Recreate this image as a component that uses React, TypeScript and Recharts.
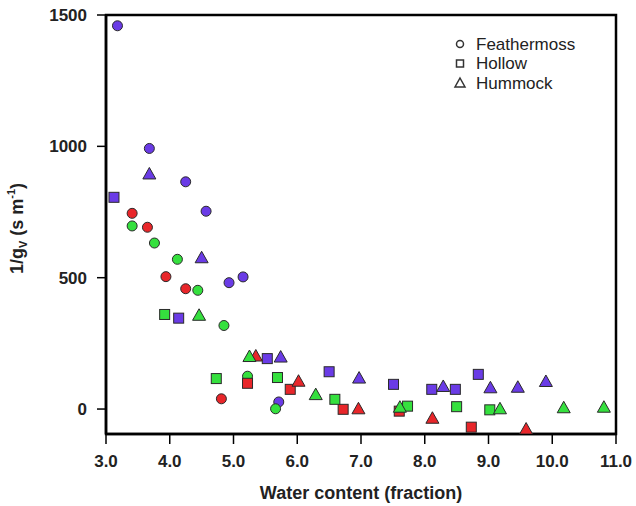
import React from 'react';
import { ScatterChart, Scatter, XAxis, YAxis, ReferenceArea, Legend } from 'recharts';

// colours of the sampling groups (not in the legend)
const BLUE = '#6a3be6';
const RED = '#e8262a';
const GREEN = '#35e03e';

const xTicks = [3, 4, 5, 6, 7, 8, 9, 10, 11];
const yTicks = [0, 500, 1000, 1500];

// Feathermoss (circles)
const featherBlue = [
  { x: 3.18, y: 1459 }, { x: 3.68, y: 992 }, { x: 4.25, y: 865 }, { x: 4.57, y: 753 },
  { x: 5.15, y: 503 }, { x: 4.93, y: 481 }, { x: 5.71, y: 27 },
];
const featherRed = [
  { x: 3.41, y: 745 }, { x: 3.65, y: 692 }, { x: 3.94, y: 504 }, { x: 4.25, y: 458 }, { x: 4.81, y: 39 },
];
const featherGreen = [
  { x: 3.41, y: 697 }, { x: 3.76, y: 632 }, { x: 4.12, y: 570 }, { x: 4.44, y: 452 },
  { x: 4.85, y: 318 }, { x: 5.22, y: 125 }, { x: 5.66, y: 1 },
];

// Hollow (squares)
const hollowBlue = [
  { x: 3.125, y: 806 }, { x: 4.14, y: 346 }, { x: 5.53, y: 192 }, { x: 6.5, y: 142 },
  { x: 7.51, y: 94 }, { x: 8.11, y: 75 }, { x: 8.48, y: 75 }, { x: 8.84, y: 132 },
];
const hollowRed = [
  { x: 5.22, y: 98 }, { x: 5.89, y: 75 }, { x: 6.72, y: -1 }, { x: 7.6, y: -8 }, { x: 8.73, y: -69 },
];
const hollowGreen = [
  { x: 3.92, y: 360 }, { x: 4.73, y: 116 }, { x: 5.69, y: 120 }, { x: 6.59, y: 37 },
  { x: 7.73, y: 11 }, { x: 8.5, y: 9 }, { x: 9.02, y: -3 },
];

// Hummock (triangles)
const hummockBlue = [
  { x: 3.68, y: 893 }, { x: 4.5, y: 574 }, { x: 5.74, y: 196 }, { x: 6.97, y: 116 },
  { x: 8.29, y: 84 }, { x: 9.03, y: 79 }, { x: 9.46, y: 81 }, { x: 9.9, y: 103 },
];
const hummockRed = [
  { x: 5.35, y: 200 }, { x: 6.02, y: 104 }, { x: 6.96, y: -1 }, { x: 8.12, y: -37 }, { x: 9.59, y: -78 },
];
const hummockGreen = [
  { x: 4.46, y: 355 }, { x: 5.25, y: 198 }, { x: 6.29, y: 53 }, { x: 7.61, y: 5 },
  { x: 9.18, y: -1 }, { x: 10.18, y: 3 }, { x: 10.81, y: 5 },
];

const legendItems = ['Feathermoss', 'Hollow', 'Hummock'];

const FONT = '"Liberation Sans", Arial, Helvetica, sans-serif';
const OUTLINE = '#2a2a2a';

const circle = (fill: string) => (p: any) => (
  <circle cx={p.cx} cy={p.cy} r={5} fill={fill} stroke={OUTLINE} strokeWidth={1} />
);
const square = (fill: string) => (p: any) => (
  <rect x={p.cx - 5} y={p.cy - 5} width={10} height={10} fill={fill} stroke={OUTLINE} strokeWidth={1} />
);
const triangle = (fill: string) => (p: any) => (
  <path
    d={`M${p.cx},${p.cy - 7} L${p.cx + 6.5},${p.cy + 4.5} L${p.cx - 6.5},${p.cy + 4.5} Z`}
    fill={fill}
    stroke={OUTLINE}
    strokeWidth={1}
  />
);

function LegendBox() {
  return (
    <svg width={170} height={66}>
      {legendItems.map((name, i) => {
        const cy = 10 + i * 19.5;
        return (
          <g key={name}>
            {i === 0 && <circle cx={10} cy={cy} r={3.5} fill="none" stroke="#333" strokeWidth={1.5} />}
            {i === 1 && <rect x={6.5} y={cy - 3.5} width={7} height={7} fill="none" stroke="#333" strokeWidth={1.5} />}
            {i === 2 && (
              <path d={`M10,${cy - 5} L15,${cy + 4} L5,${cy + 4} Z`} fill="none" stroke="#333" strokeWidth={1.5} />
            )}
            <text x={26} y={cy} dominantBaseline="central" fontSize={17} fill="#222" fontFamily={FONT}>
              {name}
            </text>
          </g>
        );
      })}
    </svg>
  );
}

function YLabel(props: any) {
  const vb = props.viewBox || { x: 0, y: 0, width: 0, height: 0 };
  const cx = vb.x + 17;
  const cy = vb.y + vb.height / 2 + 4;
  return (
    <text
      x={cx}
      y={cy}
      transform={`rotate(-90, ${cx}, ${cy})`}
      textAnchor="middle"
      dominantBaseline="central"
      fontSize={18}
      fontWeight="bold"
      fill="#222"
      fontFamily={FONT}
    >
      1/g
      <tspan fontSize={11} baselineShift="sub">V</tspan>
      <tspan> (s m</tspan>
      <tspan fontSize={11} baselineShift="super">-1</tspan>
      <tspan>)</tspan>
    </text>
  );
}

function XLabel(props: any) {
  const vb = props.viewBox || { x: 0, y: 0, width: 0, height: 0 };
  return (
    <text
      x={vb.x + vb.width / 2}
      y={vb.y + 59}
      textAnchor="middle"
      dominantBaseline="central"
      fontSize={18}
      fontWeight="bold"
      fill="#222"
      fontFamily={FONT}
    >
      Water content (fraction)
    </text>
  );
}

export default function App() {
  const tickStyle = { fill: '#222', fontSize: 17, fontWeight: 'bold', fontFamily: FONT };
  return (
    <div style={{ position: 'absolute', left: 0, top: 0, width: 636, height: 506, background: '#fff', fontFamily: FONT }}>
      <ScatterChart width={636} height={506} margin={{ top: 15, right: 20, bottom: 0, left: 0 }}>
        <XAxis
          type="number"
          dataKey="x"
          domain={[3, 11]}
          ticks={xTicks}
          tickFormatter={(v: number) => v.toFixed(1)}
          height={72}
          tickSize={10}
          tickMargin={11}
          tick={tickStyle}
          axisLine={{ stroke: '#000', strokeWidth: 2.5 }}
          tickLine={{ stroke: '#000', strokeWidth: 1.5 }}
          allowDataOverflow
          label={<XLabel />}
        />
        <YAxis
          type="number"
          dataKey="y"
          domain={[-95, 1500]}
          ticks={yTicks}
          width={106}
          tickSize={9}
          tickMargin={10}
          tick={tickStyle}
          axisLine={{ stroke: '#000', strokeWidth: 2.5 }}
          tickLine={{ stroke: '#000', strokeWidth: 1.5 }}
          allowDataOverflow
          label={<YLabel />}
        />
        <ReferenceArea
          x1={3}
          x2={11}
          y1={-95}
          y2={1500}
          fill="none"
          fillOpacity={0}
          stroke="#000"
          strokeWidth={2.5}
          ifOverflow="visible"
        />
        <Scatter data={featherBlue} shape={circle(BLUE)} isAnimationActive={false} />
        <Scatter data={featherRed} shape={circle(RED)} isAnimationActive={false} />
        <Scatter data={featherGreen} shape={circle(GREEN)} isAnimationActive={false} />
        <Scatter data={hollowBlue} shape={square(BLUE)} isAnimationActive={false} />
        <Scatter data={hollowRed} shape={square(RED)} isAnimationActive={false} />
        <Scatter data={hollowGreen} shape={square(GREEN)} isAnimationActive={false} />
        <Scatter data={hummockBlue} shape={triangle(BLUE)} isAnimationActive={false} />
        <Scatter data={hummockRed} shape={triangle(RED)} isAnimationActive={false} />
        <Scatter data={hummockGreen} shape={triangle(GREEN)} isAnimationActive={false} />
        <Legend
          layout="vertical"
          align="center"
          verticalAlign="middle"
          content={() => <LegendBox />}
          wrapperStyle={{ position: 'absolute', top: 34, left: 450, width: 170, height: 66 }}
        />
      </ScatterChart>
    </div>
  );
}
